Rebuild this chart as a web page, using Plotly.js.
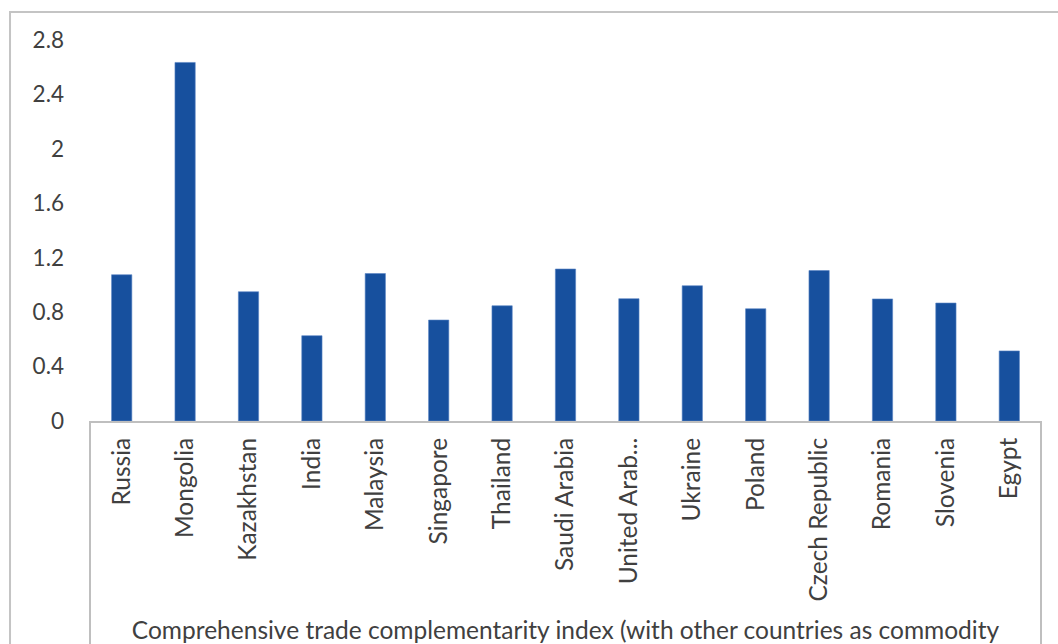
<!DOCTYPE html>
<html>
<head>
<meta charset="utf-8">
<script src="https://cdn.plot.ly/plotly-3.0.1.min.js"></script>
<style>html,body{margin:0;padding:0;background:#fff;}#chart{width:1058px;height:644px;}</style>
</head>
<body>
<div id="chart"></div>
<script>
const countries = ["Russia","Mongolia","Kazakhstan","India","Malaysia","Singapore","Thailand","Saudi Arabia","United Arab...","Ukraine","Poland","Czech Republic","Romania","Slovenia","Egypt"];
const complementarity = [1.075,2.635,0.95,0.627,1.084,0.742,0.847,1.117,0.899,0.994,0.825,1.106,0.897,0.867,0.515];
const yTicks = [0,0.4,0.8,1.2,1.6,2,2.4,2.8];
const yTickText = ["0","0.4","0.8","1.2","1.6","2","2.4","2.8"];
const xTitle = "Comprehensive trade complementarity index (with other countries as commodity";

const txt = '#404040';
const fontFam = 'Lato, "Noto Sans", sans-serif';

const trace = {
  type: 'bar',
  x: countries,
  y: complementarity,
  marker: {color: '#17509e', line: {color: '#5b84c4', width: 0.6}},
  hoverinfo: 'x+y'
};

const layout = {
  width: 1058, height: 644,
  margin: {l: 90, r: 17, t: 40, b: 222.5, pad: 0},
  paper_bgcolor: '#ffffff', plot_bgcolor: '#ffffff',
  bargap: 0.68,
  showlegend: false,
  font: {family: fontFam, color: txt, size: 22},
  xaxis: {
    type: 'category',
    tickangle: -90,
    tickfont: {family: fontFam, size: 24.5, color: txt},
    showline: true, linecolor: '#bfbfbf', linewidth: 2,
    showgrid: false, zeroline: false,
    ticks: '', ticklabelstandoff: 5,
    automargin: false,
    title: {text: xTitle, font: {family: fontFam, size: 24.5, color: txt}, standoff: 27}
  },
  yaxis: {
    range: [0, 2.8],
    tickvals: yTicks, ticktext: yTickText,
    tickfont: {family: fontFam, size: 22.5, color: txt},
    showgrid: false, zeroline: false, showline: false,
    ticks: '', ticklabelstandoff: 25,
    automargin: false
  },
  shapes: [
    {type: 'rect', xref: 'paper', yref: 'paper', x0: -0.0841, x1: 1.06, y0: -0.7, y1: 1.0734,
     line: {color: '#c4c4c4', width: 2}, fillcolor: 'rgba(0,0,0,0)', layer: 'below'},
    {type: 'line', xref: 'paper', yref: 'paper', x0: 0, x1: 0, y0: 0, y1: -0.7,
     line: {color: '#bfbfbf', width: 2}},
    {type: 'line', xref: 'paper', yref: 'paper', x0: 1, x1: 1, y0: 0, y1: -0.7,
     line: {color: '#bfbfbf', width: 2}}
  ]
};

Plotly.newPlot('chart', [trace], layout, {displayModeBar: false, staticPlot: true});
</script>
</body>
</html>
